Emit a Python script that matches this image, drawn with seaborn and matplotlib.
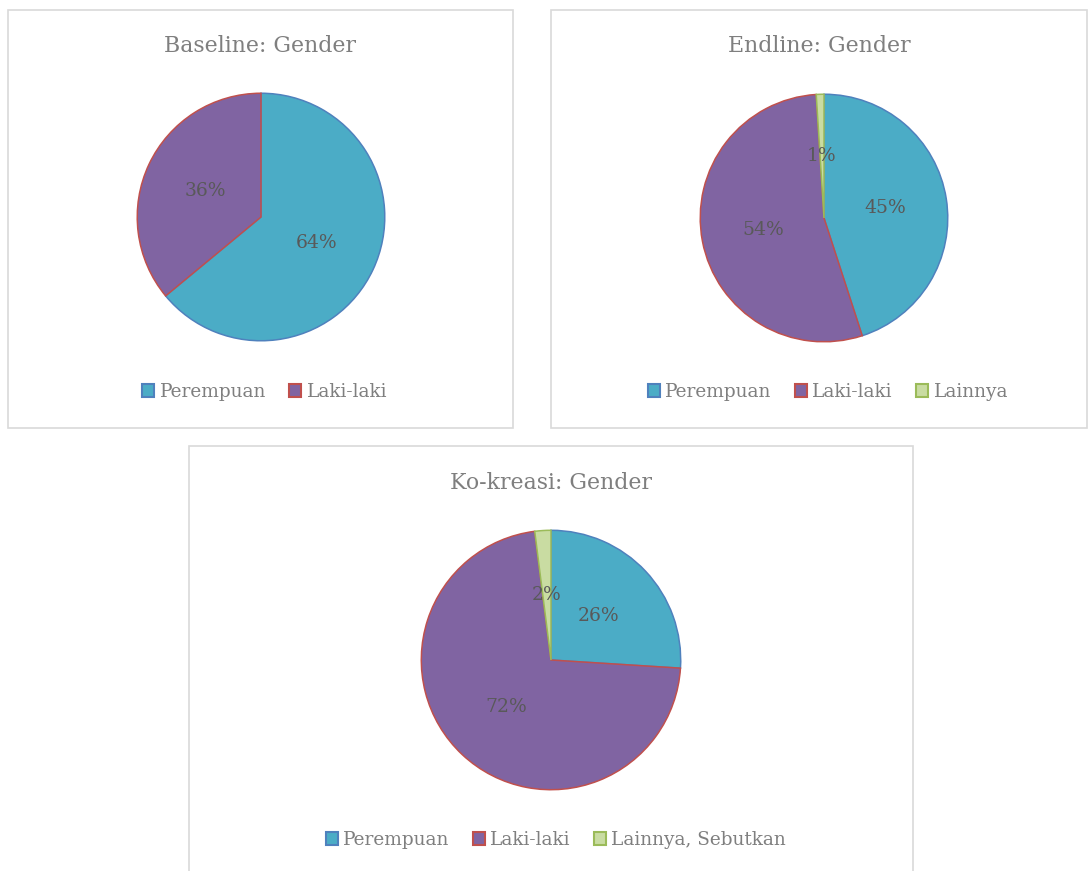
import matplotlib
matplotlib.use("Agg")
import matplotlib.pyplot as plt
from matplotlib.patches import Rectangle, Patch
import seaborn as sns

sns.set_theme(style="white")
plt.rcParams['font.family'] = ['DejaVu Serif']

# data (percent)
baseline_labels = ['Perempuan', 'Laki-laki']
baseline_values = [64, 36]

endline_labels = ['Perempuan', 'Laki-laki', 'Lainnya']
endline_values = [45, 54, 1]

kokreasi_labels = ['Perempuan', 'Laki-laki', 'Lainnya, Sebutkan']
kokreasi_values = [26, 72, 2]

fills = ['#4BACC6', '#8064A2', '#C9DCA2']
edges = ['#4F81BD', '#C0504D', '#9BBB59']

W, H = 1089, 871
fig = plt.figure(figsize=(W / 100, H / 100), dpi=100)
fig.patch.set_facecolor('white')


def px(x, y):
    return x / W, 1 - y / H


def panel(box, title, title_y, center, r, labels, values, legend_xy):
    x0, y0, x1, y1 = box
    fig.patches.append(Rectangle(px(x0, y1), (x1 - x0) / W, (y1 - y0) / H,
                                 transform=fig.transFigure, fill=False,
                                 edgecolor='#D9D9D9', linewidth=1.2))
    fig.text(*px((x0 + x1) / 2, title_y), title, ha='center', va='center',
             fontsize=15.8, color='#7F7F7F')

    cx, cy = center
    ax = fig.add_axes([(cx - r) / W, (H - cy - r) / H, 2 * r / W, 2 * r / H])
    wedges, texts, autotexts = ax.pie(
        values, colors=fills[:len(values)], startangle=90, counterclock=False,
        autopct='%1.0f%%', pctdistance=0.5, radius=1,
        wedgeprops=dict(linewidth=1.1),
        textprops=dict(fontsize=13.5, color='#595959'))
    for w, e in zip(wedges, edges):
        w.set_edgecolor(e)
    ax.set_xlim(-1.01, 1.01)
    ax.set_ylim(-1.01, 1.01)
    ax.axis('off')

    handles = [Patch(facecolor=f, edgecolor=e, linewidth=1.5, label=l)
               for f, e, l in zip(fills, edges, labels)]
    fig.legend(handles=handles, loc='center', bbox_to_anchor=px(*legend_xy),
               ncol=len(labels), frameon=False, fontsize=13.3,
               labelcolor='#7F7F7F', handlelength=0.65, handleheight=0.65,
               handletextpad=0.3, columnspacing=1.25, borderaxespad=0)


panel((8, 10, 513, 428), 'Baseline: Gender', 46, (261, 217), 125,
      baseline_labels, baseline_values, (265, 392))
panel((551, 10, 1087, 428), 'Endline: Gender', 46, (824, 218), 125,
      endline_labels, endline_values, (828, 392))
panel((189, 446, 913, 875), 'Ko-kreasi: Gender', 483, (551, 660), 131,
      kokreasi_labels, kokreasi_values, (556, 840))

fig.savefig('out.png', dpi=100, facecolor='white')
